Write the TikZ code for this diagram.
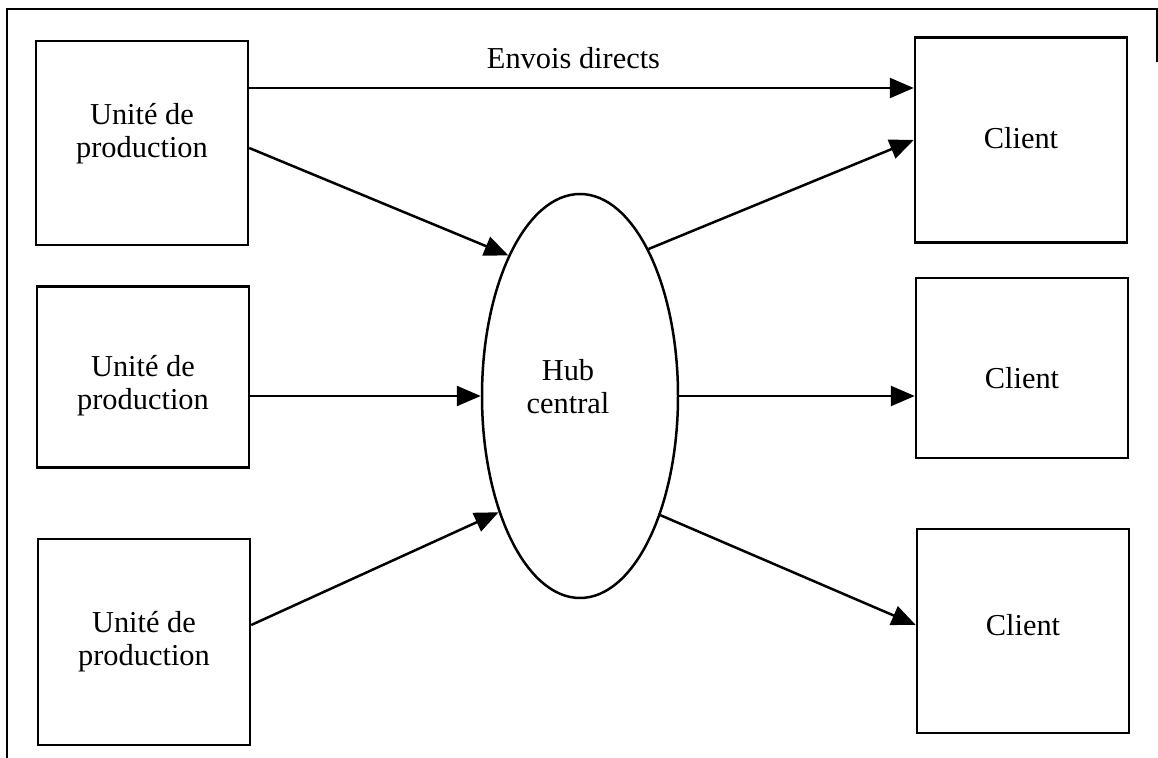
\documentclass[tikz,border=0pt]{standalone}
\usepackage{fontspec}
\setmainfont{Liberation Serif}
\usetikzlibrary{shapes.geometric,arrows.meta}
\tikzset{
  unitbox/.style={draw,line width=1.25pt,minimum width=106pt,inner sep=0pt},
  hubshape/.style={draw,ellipse,line width=1.25pt,minimum width=98pt,minimum height=202pt,inner sep=0pt},
  flow/.style={line width=1.25pt,-{Triangle[length=12pt,width=10pt]}},
  txt/.style={font=\fontsize{15.2}{16.5}\selectfont,align=center,inner sep=0pt}
}
\begin{document}
\begin{tikzpicture}[x=0.5pt,y=-0.5pt]
\useasboundingbox (0,0) rectangle (1158,758);
% outer frame
\draw[line width=1.25pt] (1157,62) -- (1157,9) -- (7,9) -- (7,758);

% production units
\node[unitbox,minimum height=102pt] (p1) at (142,143) {};
\node[unitbox,minimum height=90.5pt] (p2) at (143,377) {};
\node[unitbox,minimum height=103pt] (p3) at (144,642) {};
\node[txt] (p1t) at ([yshift=4.5pt]p1.center) {Unité de\\production};
\node[txt] (p2t) at ([yshift=-4.5pt]p2.center) {Unité de\\production};
\node[txt] (p3t) at (p3.center) {Unité de\\production};

% clients
\node[unitbox,minimum height=102.5pt] (c1) at (1021,140) {};
\node[unitbox,minimum height=90pt] (c2) at (1022,368) {};
\node[unitbox,minimum height=102pt] (c3) at (1023,631) {};
\node[txt] (c1t) at ([yshift=1pt]c1.center) {Client};
\node[txt] (c2t) at ([yshift=-5pt]c2.center) {Client};
\node[txt] (c3t) at ([yshift=3pt]c3.center) {Client};

% central hub
\node[hubshape] (hub) at (580,396) {};
\node[txt] (hubt) at ([xshift=-6pt,yshift=4.5pt]hub.center) {Hub\\central};

% direct shipments
\draw[flow] ([yshift=27.5pt]p1.east) -- node[txt,above=9pt,xshift=-4pt] (lbl) {Envois directs} ([yshift=26pt]c1.west);

% into the hub
\draw[flow] ([yshift=-2.5pt]p1.east) -- (hub.117);
\draw[flow] (p2.east |- hub.west) -- (hub.west);
\draw[flow] ([yshift=8.5pt]p3.east) -- (hub.235);

% out of the hub
\draw[flow] (hub.65) -- (c1.west);
\draw[flow] (hub.east) -- (c2.west |- hub.east);
\draw[flow] (hub.304) -- ([yshift=3pt]c3.west);
\end{tikzpicture}
\end{document}
